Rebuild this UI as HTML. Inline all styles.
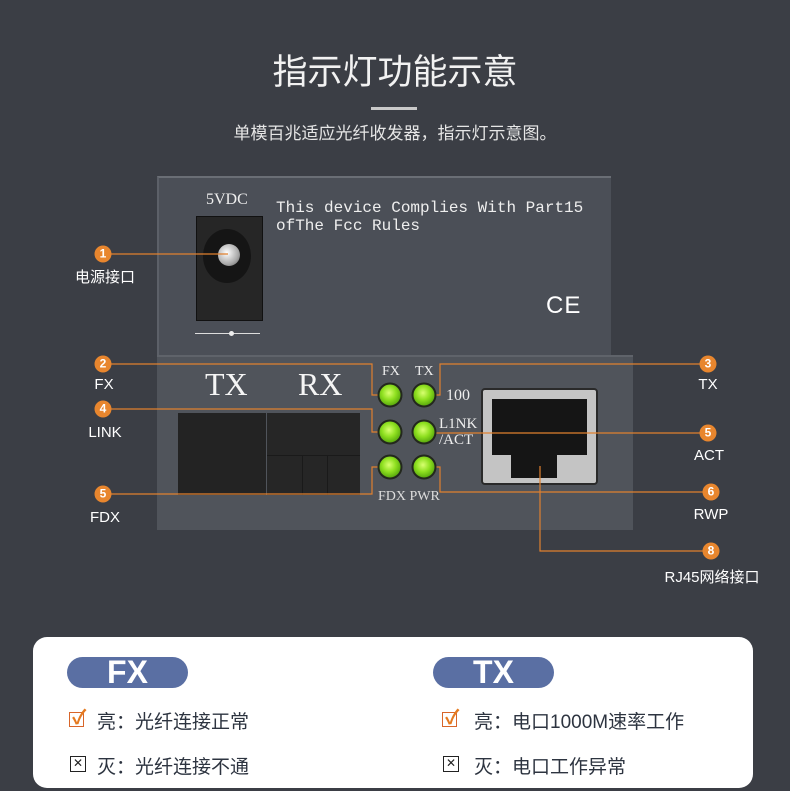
<!DOCTYPE html>
<html><head><meta charset="utf-8"><style>
*{margin:0;padding:0;box-sizing:border-box}
body{width:790px;height:791px;background:#3b3e45;position:relative;overflow:hidden;font-family:"Liberation Sans","Noto Sans CJK SC",sans-serif;color:#fff}
.a{position:absolute;white-space:nowrap}
.serif{font-family:"Liberation Serif","Noto Serif CJK SC",serif}
.lbl{font-size:15px;color:#fff;transform:translateX(-50%)}
.num{position:absolute;width:17px;height:17px;border-radius:50%;background:#e8862e;color:#fff;font-size:12px;font-weight:bold;text-align:center;line-height:17px;transform:translate(-50%,-50%)}
.led{position:absolute;width:25px;height:25px;border-radius:50%;border:2px solid #23281d;background:radial-gradient(circle at 45% 40%,#d8ff70 0,#8fe020 40%,#4a9a08 85%);transform:translate(-50%,-50%)}
.row{font-size:19px;color:#2d3440;font-family:"Liberation Sans","Noto Sans CJK SC",sans-serif}
.pill{position:absolute;height:31px;width:121px;border-radius:16px;background:#5a6fa3;color:#fff;font-weight:bold;font-size:32px;text-align:center;line-height:31px}
.chk{position:absolute;width:15px;height:15px;border:1.5px solid #d8652a}
.xb{position:absolute;width:16px;height:16px;border:1.5px solid #222;font-size:12px;line-height:13px;text-align:center;color:#222}
</style></head><body>
<div class="a" style="left:0;width:790px;top:44px;text-align:center;font-size:35px;color:#f2f2f2">指示灯功能示意</div>
<div class="a" style="left:371px;top:107px;width:46px;height:3px;background:#c9c9c9"></div>
<div class="a" style="left:0;width:790px;top:119px;text-align:center;font-size:17px;color:#e6e6e6">单模百兆适应光纤收发器，指示灯示意图。</div>

<div class="a" style="left:157px;top:176px;width:454px;height:180px;background:#4b4f57;border-top:2px solid #6a6e75;border-left:2px solid #5c6068"></div>
<div class="a serif" style="left:206px;top:191px;font-size:16px;color:#eee">5VDC</div>
<div class="a" style="left:196px;top:216px;width:67px;height:105px;background:#262626;border:1px solid #111"></div>
<div class="a" style="left:203px;top:229px;width:48px;height:54px;border-radius:50%;background:#151515"></div>
<div class="a" style="left:218px;top:244px;width:22px;height:22px;border-radius:50%;background:radial-gradient(circle at 40% 40%,#fff,#aaa 60%,#555)"></div>
<div class="a" style="left:195px;top:333px;width:65px;height:1px;background:#ddd"></div>
<div class="a" style="left:229px;top:331px;width:5px;height:5px;border-radius:50%;background:#eee"></div>
<div class="a" style="left:276px;top:199px;font-family:'Liberation Mono',monospace;font-size:16px;color:#eee;line-height:18px">This device Complies With Part15<br>ofThe Fcc Rules</div>
<div class="a" style="left:546px;top:292px;font-size:24px;color:#fff;letter-spacing:1px">CE</div>

<div class="a" style="left:157px;top:355px;width:476px;height:175px;background:#50545b;border-top:2px solid #5f636a"></div>
<div class="a serif" style="left:205px;top:366px;font-size:32px;color:#f5f5f5">TX</div>
<div class="a serif" style="left:298px;top:366px;font-size:32px;color:#f5f5f5">RX</div>
<div class="a" style="left:178px;top:413px;width:88px;height:82px;background:#232323"></div>
<div class="a" style="left:267px;top:413px;width:93px;height:82px;background:#262626"></div>
<div class="a" style="left:267px;top:455px;width:93px;height:1px;background:#1a1a1a"></div>
<div class="a" style="left:302px;top:455px;width:1px;height:40px;background:#1a1a1a"></div>
<div class="a" style="left:327px;top:455px;width:1px;height:40px;background:#1a1a1a"></div>
<div class="a serif" style="left:382px;top:364px;font-size:14px;color:#eee">FX</div>
<div class="a serif" style="left:415px;top:364px;font-size:14px;color:#eee">TX</div>
<div class="a serif" style="left:446px;top:387px;font-size:16px;color:#eee">100</div>
<div class="a serif" style="left:439px;top:416px;font-size:15px;color:#eee;line-height:16px">L1NK<br>/ACT</div>
<div class="a serif" style="left:378px;top:489px;font-size:14px;color:#ddd">FDX PWR</div>
<div class="a" style="left:481px;top:388px;width:117px;height:97px;border-radius:4px;background:#c4c4c4;border:2px solid #2a2a2a"></div>
<div class="a" style="left:492px;top:399px;width:95px;height:56px;background:#151515"></div>
<div class="a" style="left:511px;top:455px;width:46px;height:23px;background:#151515"></div>

<svg class="a" style="left:0;top:0" width="790" height="791">
<g stroke="#e0802f" stroke-width="1.2" fill="none">
<path d="M103 254H228"/>
<path d="M103 364H372V395H384"/>
<path d="M708 364H440V395H428"/>
<path d="M103 409H372V432H384"/>
<path d="M708 433H428"/>
<path d="M103 494H372V467H384"/>
<path d="M711 492H440V467H428"/>
<path d="M711 551H540V466"/>
</g></svg>
<div class="led" style="left:390px;top:395px"></div>
<div class="led" style="left:424px;top:395px"></div>
<div class="led" style="left:390px;top:432px"></div>
<div class="led" style="left:424px;top:432px"></div>
<div class="led" style="left:390px;top:467px"></div>
<div class="led" style="left:424px;top:467px"></div>

<div class="num" style="left:103px;top:254px">1</div>
<div class="num" style="left:103px;top:364px">2</div>
<div class="num" style="left:708px;top:364px">3</div>
<div class="num" style="left:103px;top:409px">4</div>
<div class="num" style="left:708px;top:433px">5</div>
<div class="num" style="left:103px;top:494px">5</div>
<div class="num" style="left:711px;top:492px">6</div>
<div class="num" style="left:711px;top:551px">8</div>
<div class="a lbl" style="left:105px;top:266px">电源接口</div>
<div class="a lbl" style="left:104px;top:376px">FX</div>
<div class="a lbl" style="left:105px;top:424px">LINK</div>
<div class="a lbl" style="left:105px;top:509px">FDX</div>
<div class="a lbl" style="left:708px;top:376px">TX</div>
<div class="a lbl" style="left:709px;top:447px">ACT</div>
<div class="a lbl" style="left:711px;top:506px">RWP</div>
<div class="a lbl" style="left:712px;top:566px">RJ45网络接口</div>

<div class="a" style="left:33px;top:637px;width:720px;height:151px;background:#fff;border-radius:14px"></div>
<div class="pill" style="left:67px;top:657px">FX</div>
<div class="pill" style="left:433px;top:657px">TX</div>
<div class="chk" style="left:69px;top:712px"></div>
<div class="a" style="left:72px;top:701px;font-size:20px;color:#e57a20;font-weight:bold">✓</div>
<div class="a row" style="left:97px;top:707px">亮：光纤连接正常</div>
<div class="xb" style="left:70px;top:756px">✕</div>
<div class="a row" style="left:97px;top:752px">灭：光纤连接不通</div>
<div class="chk" style="left:442px;top:712px"></div>
<div class="a" style="left:445px;top:701px;font-size:20px;color:#e57a20;font-weight:bold">✓</div>
<div class="a row" style="left:474px;top:707px">亮：电口1000M速率工作</div>
<div class="xb" style="left:443px;top:756px">✕</div>
<div class="a row" style="left:474px;top:752px">灭：电口工作异常</div>
</body></html>
